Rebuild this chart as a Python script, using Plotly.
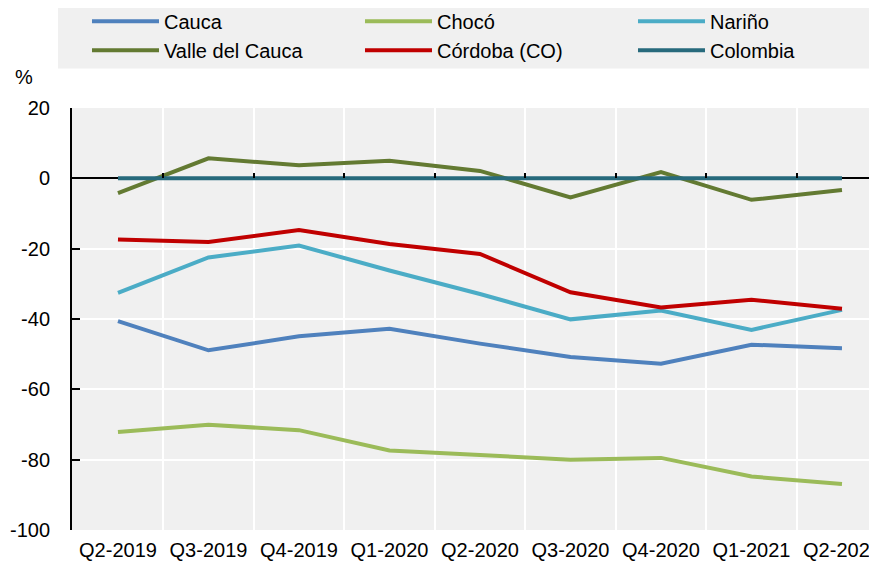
import plotly.graph_objects as go

quarters = ["Q2-2019", "Q3-2019", "Q4-2019", "Q1-2020", "Q2-2020",
            "Q3-2020", "Q4-2020", "Q1-2021", "Q2-2021"]

cauca = [-40.6, -48.9, -44.9, -42.8, -47.0, -50.8, -52.7, -47.3, -48.3]
choco = [-72.1, -70.1, -71.6, -77.4, -78.7, -80.0, -79.5, -84.8, -86.9]
narino = [-32.6, -22.5, -19.1, -26.2, -32.9, -40.1, -37.6, -43.1, -37.4]
valle = [-4.2, 5.7, 3.7, 5.0, 2.1, -5.4, 1.8, -6.1, -3.3]
cordoba = [-17.4, -18.1, -14.7, -18.7, -21.5, -32.4, -36.7, -34.5, -37.1]
colombia = [0, 0, 0, 0, 0, 0, 0, 0, 0]

y_ticks = [20, 0, -20, -40, -60, -80, -100]
y_ticktext = ["20", "0", "-20", "-40", "-60", "-80", "-100"]

series = [
    ("Cauca", cauca, "#4F81BD"),
    ("Chocó", choco, "#9BBB59"),
    ("Nariño", narino, "#4BACC6"),
    ("Valle del Cauca", valle, "#637A32"),
    ("Córdoba (CO)", cordoba, "#C00000"),
    ("Colombia", colombia, "#276A7C"),
]

FONT = "Liberation Sans, Arial, sans-serif"

fig = go.Figure()

for name, values, color in series:
    fig.add_trace(
        go.Scatter(
            x=quarters,
            y=values,
            mode="lines",
            name=name,
            line=dict(color=color, width=4),
        )
    )

# page body has an 8px margin, so the figure is a bit smaller than the window
fig.update_layout(
    width=869,
    height=557,
    margin=dict(l=64, r=0, t=99.5, b=34.5, autoexpand=False),
    paper_bgcolor="white",
    plot_bgcolor="#F0F0F0",
    font=dict(family=FONT, size=20, color="black"),
    showlegend=True,
    legend=dict(
        orientation="h",
        x=-0.0174,
        xanchor="left",
        y=1.3203,
        yanchor="top",
        bgcolor="rgba(0,0,0,0)",
        bordercolor="rgba(0,0,0,0)",
        borderwidth=29,
        entrywidth=191,
        entrywidthmode="pixels",
        itemwidth=67,
        font=dict(family=FONT, size=20),
        tracegroupgap=0,
    ),
    shapes=[
        # legend background
        dict(
            type="rect",
            xref="paper", yref="paper",
            x0=-0.0174, x1=1.0,
            y0=1.0934, y1=1.2376,
            fillcolor="#F0F0F0",
            line=dict(width=0),
            layer="below",
        )
    ],
    annotations=[
        dict(
            text="%",
            xref="paper", yref="paper",
            x=-0.0596, y=1.0727,
            xanchor="center", yanchor="middle",
            showarrow=False,
            font=dict(family=FONT, size=20),
        )
    ],
)

fig.update_xaxes(
    type="category",
    range=[-0.508, 8.387],
    tickson="boundaries",
    showgrid=True,
    gridcolor="white",
    gridwidth=2,
    showline=False,
    ticks="",
    zeroline=False,
    ticklabelstandoff=6,
    automargin=False,
)

fig.update_yaxes(
    range=[-100, 20],
    tickvals=y_ticks,
    ticktext=y_ticktext,
    showgrid=True,
    gridcolor="white",
    gridwidth=2,
    zeroline=True,
    zerolinecolor="black",
    zerolinewidth=2,
    showline=True,
    linecolor="black",
    linewidth=2,
    ticks="inside",
    ticklen=8,
    tickwidth=2,
    tickcolor="black",
    ticklabelstandoff=16,
    automargin=False,
)

# tick marks on the zero line
fig.update_layout(
    xaxis2=dict(
        type="category",
        overlaying="x",
        matches="x",
        anchor="free",
        position=100 / 120,
        side="bottom",
        tickson="boundaries",
        ticks="inside",
        ticklen=5,
        tickwidth=2,
        tickcolor="black",
        showticklabels=False,
        showgrid=False,
        showline=False,
        zeroline=False,
    )
)
fig.add_trace(
    go.Scatter(
        x=quarters,
        y=colombia,
        xaxis="x2",
        mode="lines",
        line=dict(color="rgba(0,0,0,0)", width=0),
        showlegend=False,
        hoverinfo="skip",
    )
)

fig.write_html("out.html")
